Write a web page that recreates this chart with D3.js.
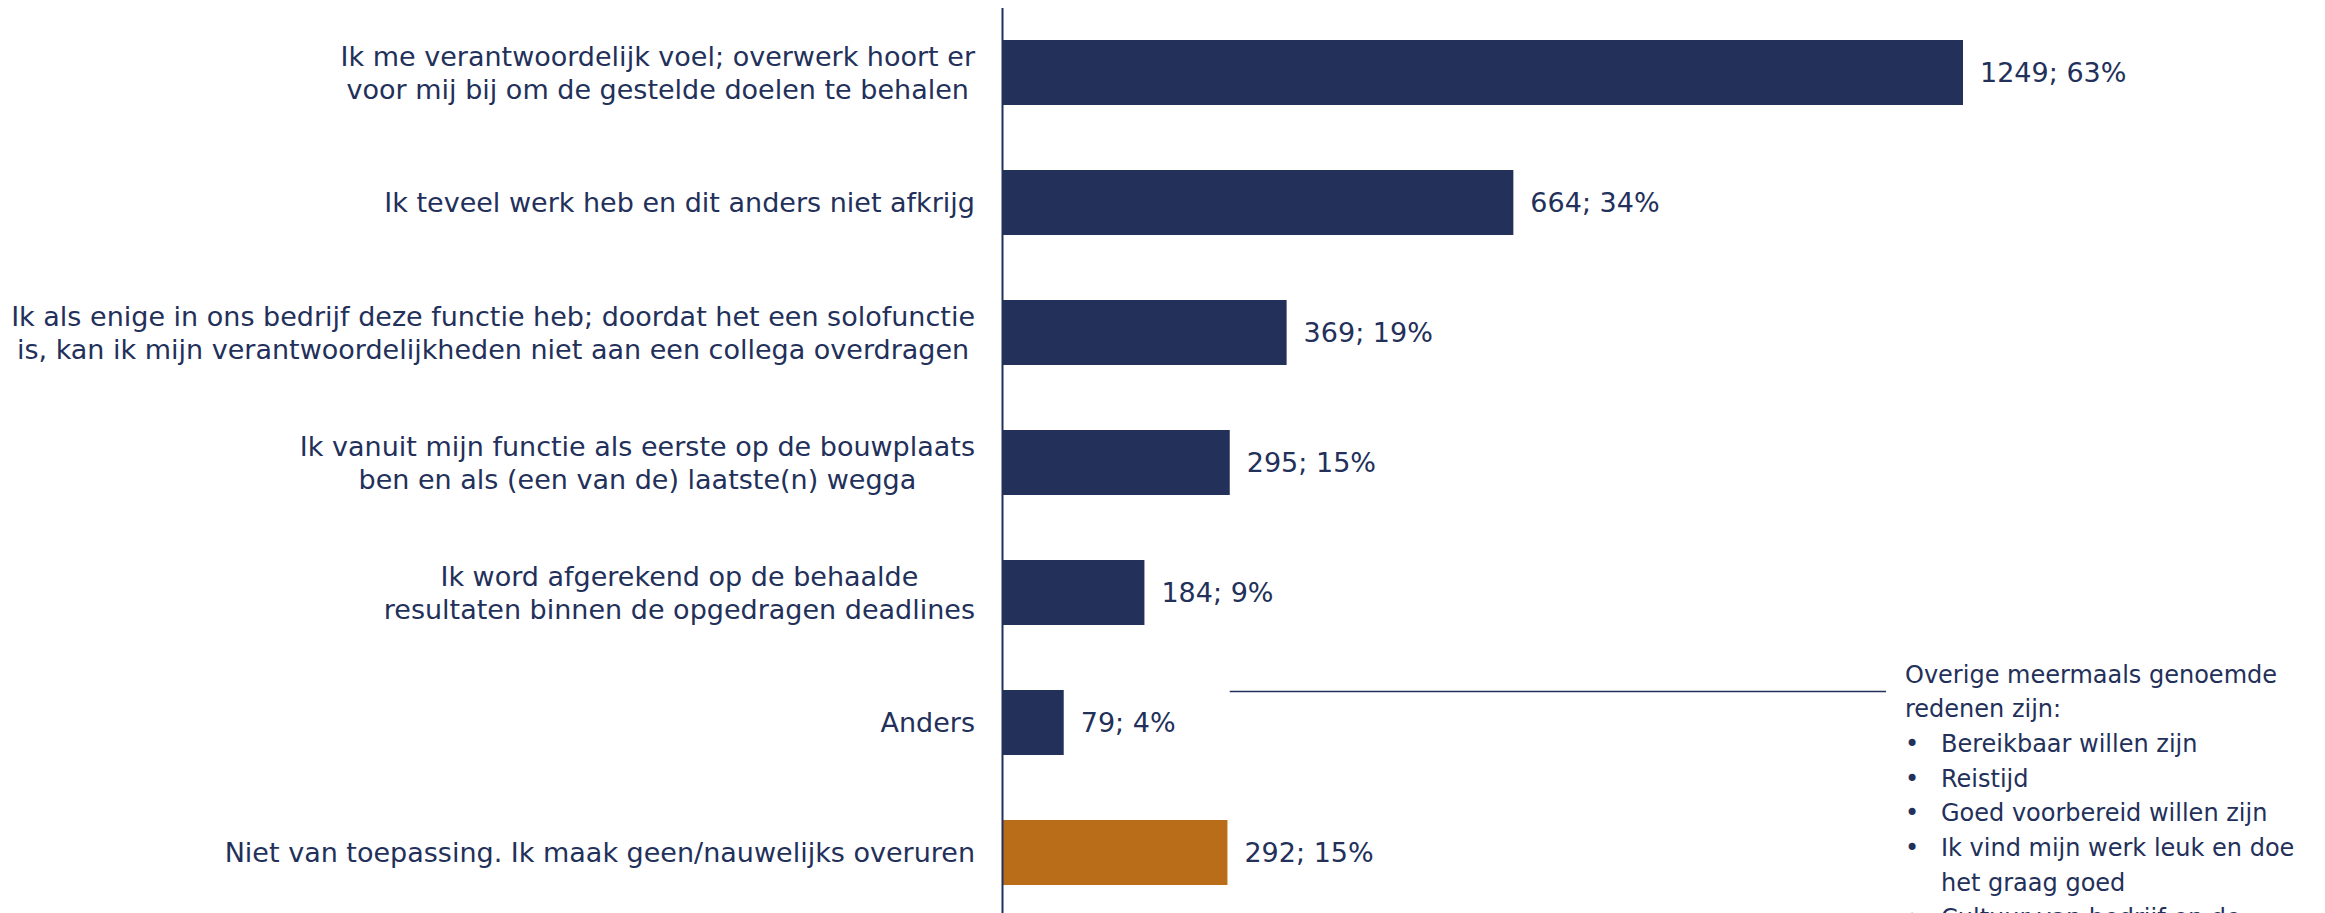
<!DOCTYPE html>
<html>
<head>
<meta charset="utf-8">
<script src="https://cdn.jsdelivr.net/npm/d3@7"></script>
<style>
	body { margin: 0; background: #fff; }
	svg { display: block; font-family: Verdana, "DejaVu Sans", sans-serif; }
	text { fill: #22305a; }
</style>
</head>
<body>
<div id="chartContainer"></div>
<script>
//chart data
var categories = [
	["Ik me verantwoordelijk voel; overwerk hoort er", "voor mij bij om de gestelde doelen te behalen"],
	["Ik teveel werk heb en dit anders niet afkrijg"],
	["Ik als enige in ons bedrijf deze functie heb; doordat het een solofunctie", "is, kan ik mijn verantwoordelijkheden niet aan een collega overdragen"],
	["Ik vanuit mijn functie als eerste op de bouwplaats", "ben en als (een van de) laatste(n) wegga"],
	["Ik word afgerekend op de behaalde", "resultaten binnen de opgedragen deadlines"],
	["Anders"],
	["Niet van toepassing. Ik maak geen/nauwelijks overuren"]
];
var counts = [1249, 664, 369, 295, 184, 79, 292];
var percents = [63, 34, 19, 15, 9, 4, 15];
var highlighted = "Niet van toepassing. Ik maak geen/nauwelijks overuren";

var noteTitle = ["Overige meermaals genoemde", "redenen zijn:"];
var noteBullets = [
	["Bereikbaar willen zijn"],
	["Reistijd"],
	["Goed voorbereid willen zijn"],
	["Ik vind mijn werk leuk en doe", "het graag goed"],
	["Cultuur van bedrijf en de"]
];

var NAVY = "#22305a", ORANGE = "#b96d18";
var W = 2325, H = 913;

var keys = categories.map(function(c) { return c.join(" "); });
var rows = keys.map(function(k, i) {
	return {key: k, lines: categories[i], count: counts[i], pct: percents[i]};
});

var svg = d3.select("#chartContainer")
	.append("svg")
	.attr("width", W)
	.attr("height", H);

var x = d3.scaleLinear()
	.domain([0, d3.max(counts)])
	.range([1003, 1963]);

var y = d3.scaleBand()
	.domain(keys)
	.range([7.5, 917.5])
	.paddingInner(0.5)
	.paddingOuter(0.25);

// bars
svg.append("g").selectAll("rect")
	.data(rows)
	.enter().append("rect")
	.attr("x", x(0))
	.attr("y", function(d) { return y(d.key); })
	.attr("width", function(d) { return x(d.count) - x(0); })
	.attr("height", y.bandwidth())
	.attr("fill", function(d) { return d.key === highlighted ? ORANGE : NAVY; });

// vertical axis line only
var yAxis = d3.axisLeft(y).tickSize(0).tickSizeOuter(0).tickFormat("");
svg.append("g")
	.attr("class", "y axis")
	.attr("transform", "translate(1002,0)")
	.call(yAxis)
	.call(function(g) {
		g.select(".domain").attr("stroke", NAVY).attr("stroke-width", 2);
	});

// value labels
svg.append("g").selectAll("text")
	.data(rows)
	.enter().append("text")
	.attr("x", function(d) { return x(d.count) + 17; })
	.attr("y", function(d) { return y(d.key) + y.bandwidth() / 2; })
	.attr("dy", "0.36em")
	.style("font-size", "27px")
	.text(function(d) { return d.count + "; " + d.pct + "%"; });

// category labels: centred lines, block right-aligned near the axis
var LABEL_RIGHT = 975, LINE_H = 33;
var labels = svg.append("g").selectAll("text")
	.data(rows)
	.enter().append("text")
	.attr("text-anchor", "middle")
	.style("font-size", "27px");

labels.each(function(d) {
	var t = d3.select(this);
	var cy = y(d.key) + y.bandwidth() / 2;
	var n = d.lines.length;
	d.lines.forEach(function(line, i) {
		t.append("tspan")
			.attr("y", cy + (i - (n - 1) / 2) * LINE_H)
			.attr("dy", "0.36em")
			.text(line);
	});
	var widest = 0;
	t.selectAll("tspan").each(function() {
		widest = Math.max(widest, this.getComputedTextLength());
	});
	t.selectAll("tspan").attr("x", LABEL_RIGHT - widest / 2);
});

// annotation next to "Anders"
var anders = rows[5];
svg.append("line")
	.attr("x1", x(anders.count) + 166)
	.attr("x2", 1886)
	.attr("y1", y(anders.key) + 1.5)
	.attr("y2", y(anders.key) + 1.5)
	.attr("stroke", NAVY)
	.attr("stroke-width", 1.5);

var NOTE_X = 1905, BULLET_TEXT_X = 1941, NOTE_Y = 674, NOTE_LH = 34.7;
var note = svg.append("g").style("font-size", "24px");
var row = 0;
noteTitle.forEach(function(line) {
	note.append("text")
		.attr("x", NOTE_X)
		.attr("y", NOTE_Y + row * NOTE_LH)
		.attr("dy", "0.36em")
		.text(line);
	row++;
});
noteBullets.forEach(function(item) {
	note.append("text")
		.attr("x", NOTE_X)
		.attr("y", NOTE_Y + row * NOTE_LH)
		.attr("dy", "0.36em")
		.text("\u2022");
	item.forEach(function(line) {
		note.append("text")
			.attr("x", BULLET_TEXT_X)
			.attr("y", NOTE_Y + row * NOTE_LH)
			.attr("dy", "0.36em")
			.text(line);
		row++;
	});
});
</script>
</body>
</html>
